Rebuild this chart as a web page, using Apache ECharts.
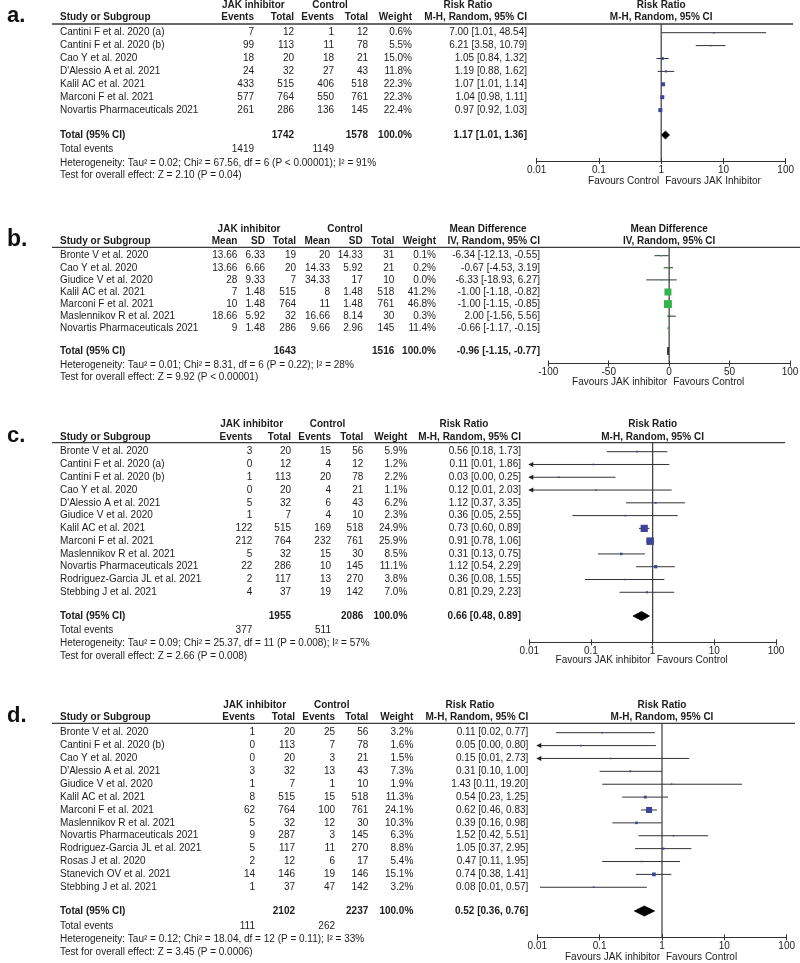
<!DOCTYPE html>
<html>
<head>
<meta charset="utf-8">
<script src="https://cdn.jsdelivr.net/npm/echarts@6.0.0/dist/echarts.min.js"></script>
<style>html,body{margin:0;padding:0;background:#fff}#chart{width:800px;height:963px}</style>
</head>
<body>
<div id="chart"></div>
<script>
// ---------------- Panel a: Risk Ratio ----------------
const studiesA = ["Cantini F et al. 2020 (a)", "Cantini F et al. 2020 (b)", "Cao Y et al. 2020", "D'Alessio A et al. 2021", "Kalil AC et al. 2021", "Marconi F et al. 2021", "Novartis Pharmaceuticals 2021"];
const jakEventsA = [7, 99, 18, 24, 433, 577, 261];
const jakTotalA = [12, 113, 20, 32, 515, 764, 286];
const ctlEventsA = [1, 11, 18, 27, 406, 550, 136];
const ctlTotalA = [12, 78, 21, 43, 518, 761, 145];
const weightA = [0.6, 5.5, 15.0, 11.8, 22.3, 22.3, 22.4];
const rrA = [7.00, 6.21, 1.05, 1.19, 1.07, 1.04, 0.97];
const loA = [1.01, 3.58, 0.84, 0.88, 1.01, 0.98, 0.92];
const hiA = [48.54, 10.79, 1.32, 1.62, 1.14, 1.11, 1.03];
const totalsA = [1742, 1578];
const eventsA = [1419, 1149];
const pooledA = [1.17, 1.01, 1.36];
const hetA = "Heterogeneity: Tau² = 0.02; Chi² = 67.56, df = 6 (P < 0.00001); I² = 91%";
const testA = "Test for overall effect: Z = 2.10 (P = 0.04)";
const favoursA = ["Favours Control", "Favours JAK Inhibitor"];

// ---------------- Panel b: Mean Difference ----------------
const studiesB = ["Bronte V et al. 2020", "Cao Y et al. 2020", "Giudice V et al. 2020", "Kalil AC et al. 2021", "Marconi F et al. 2021", "Maslennikov R et al. 2021", "Novartis Pharmaceuticals 2021"];
const jakMeanB = [13.66, 13.66, 28, 7, 10, 18.66, 9];
const jakSdB = [6.33, 6.66, 9.33, 1.48, 1.48, 5.92, 1.48];
const jakTotalB = [19, 20, 7, 515, 764, 32, 286];
const ctlMeanB = [20, 14.33, 34.33, 8, 11, 16.66, 9.66];
const ctlSdB = [14.33, 5.92, 17, 1.48, 1.48, 8.14, 2.96];
const ctlTotalB = [31, 21, 10, 518, 761, 30, 145];
const weightB = [0.1, 0.2, 0.0, 41.2, 46.8, 0.3, 11.4];
const mdB = [-6.34, -0.67, -6.33, -1.00, -1.00, 2.00, -0.66];
const loB = [-12.13, -4.53, -18.93, -1.18, -1.15, -1.56, -1.17];
const hiB = [-0.55, 3.19, 6.27, -0.82, -0.85, 5.56, -0.15];
const totalsB = [1643, 1516];
const pooledB = [-0.96, -1.15, -0.77];
const hetB = "Heterogeneity: Tau² = 0.01; Chi² = 8.31, df = 6 (P = 0.22); I² = 28%";
const testB = "Test for overall effect: Z = 9.92 (P < 0.00001)";
const favoursB = ["Favours JAK inhibitor", "Favours Control"];

// ---------------- Panel c: Risk Ratio ----------------
const studiesC = ["Bronte V et al. 2020", "Cantini F et al. 2020 (a)", "Cantini F et al. 2020 (b)", "Cao Y et al. 2020", "D'Alessio A et al. 2021", "Giudice V et al. 2020", "Kalil AC et al. 2021", "Marconi F et al. 2021", "Maslennikov R et al. 2021", "Novartis Pharmaceuticals 2021", "Rodriguez-Garcia JL et al. 2021", "Stebbing J et al. 2021"];
const jakEventsC = [3, 0, 1, 0, 5, 1, 122, 212, 5, 22, 2, 4];
const jakTotalC = [20, 12, 113, 20, 32, 7, 515, 764, 32, 286, 117, 37];
const ctlEventsC = [15, 4, 20, 4, 6, 4, 169, 232, 15, 10, 13, 19];
const ctlTotalC = [56, 12, 78, 21, 43, 10, 518, 761, 30, 145, 270, 142];
const weightC = [5.9, 1.2, 2.2, 1.1, 6.2, 2.3, 24.9, 25.9, 8.5, 11.1, 3.8, 7.0];
const rrC = [0.56, 0.11, 0.03, 0.12, 1.12, 0.36, 0.73, 0.91, 0.31, 1.12, 0.36, 0.81];
const loC = [0.18, 0.007, 0.002, 0.007, 0.37, 0.05, 0.60, 0.78, 0.13, 0.54, 0.08, 0.29];
const hiC = [1.73, 1.86, 0.25, 2.03, 3.35, 2.55, 0.89, 1.06, 0.75, 2.29, 1.55, 2.23];
const totalsC = [1955, 2086];
const eventsC = [377, 511];
const pooledC = [0.66, 0.48, 0.89];
const hetC = "Heterogeneity: Tau² = 0.09; Chi² = 25.37, df = 11 (P = 0.008); I² = 57%";
const testC = "Test for overall effect: Z = 2.66 (P = 0.008)";
const favoursC = ["Favours JAK inhibitor", "Favours Control"];

// ---------------- Panel d: Risk Ratio ----------------
const studiesD = ["Bronte V et al. 2020", "Cantini F et al. 2020 (b)", "Cao Y et al. 2020", "D'Alessio A et al. 2021", "Giudice V et al. 2020", "Kalil AC et al. 2021", "Marconi F et al. 2021", "Maslennikov R et al. 2021", "Novartis Pharmaceuticals 2021", "Rodriguez-Garcia JL et al. 2021", "Rosas J et al. 2020", "Stanevich OV et al. 2021", "Stebbing J et al. 2021"];
const jakEventsD = [1, 0, 0, 3, 1, 8, 62, 5, 9, 5, 2, 14, 1];
const jakTotalD = [20, 113, 20, 32, 7, 515, 764, 32, 287, 117, 12, 146, 37];
const ctlEventsD = [25, 7, 3, 13, 1, 15, 100, 12, 3, 11, 6, 19, 47];
const ctlTotalD = [56, 78, 21, 43, 10, 518, 761, 30, 145, 270, 17, 146, 142];
const weightD = [3.2, 1.6, 1.5, 7.3, 1.9, 11.3, 24.1, 10.3, 6.3, 8.8, 5.4, 15.1, 3.2];
const rrD = [0.11, 0.05, 0.15, 0.31, 1.43, 0.54, 0.62, 0.39, 1.52, 1.05, 0.47, 0.74, 0.08];
const loD = [0.02, 0.003, 0.008, 0.10, 0.11, 0.23, 0.46, 0.16, 0.42, 0.37, 0.11, 0.38, 0.011];
const hiD = [0.77, 0.80, 2.73, 1.00, 19.20, 1.25, 0.83, 0.98, 5.51, 2.95, 1.95, 1.41, 0.57];
const totalsD = [2102, 2237];
const eventsD = [111, 262];
const pooledD = [0.52, 0.36, 0.76];
const hetD = "Heterogeneity: Tau² = 0.12; Chi² = 18.04, df = 12 (P = 0.11); I² = 33%";
const testD = "Test for overall effect: Z = 3.45 (P = 0.0006)";
const favoursD = ["Favours JAK inhibitor", "Favours Control"];

// ---------------- Axis tick labels ----------------
const ticksRR = ["0.01", "0.1", "1", "10", "100"];
const ticksMD = ["-100", "-50", "0", "50", "100"];

// ---------------- Layout (pixels) ----------------
const FONT = '"Liberation Sans", Arial, Helvetica, sans-serif';
const NAVY = '#3a4599', GREEN = '#35b24b', INK = '#1c1c1c', LINEC = '#333';

const LA = {label:'a.', labY:15.5, labFs:22, y0:32.7, s:12.9, hdr1:5, hdr2:17, line:24, axis:161, total:135, events:149.3, het:163.3, test:175.7, fav:181,
  xl:536.7, xr:785.7, lineR:793, box:0.18, dia:4, cols:[60,254,294,334,368,412,527], hdrJak:253.3, hdrCtl:330, hdrMeas:468};
const LB = {label:'b.', labY:240, labFs:23, y0:255.7, s:12.1, hdr1:229.3, hdr2:241.7, line:247.3, axis:363.5, total:351, het:365.7, test:377.7, fav:382.5,
  xl:548.3, xr:790, lineR:800, box:0.17, dia:4, cols:[60,237.3,265,296,330,362.7,394.3,436,540], hdrJak:249, hdrCtl:345, hdrMeas:488};
const LC = {label:'c.', labY:436, labFs:22, y0:451.7, s:12.78, hdr1:424.3, hdr2:437.3, line:442.7, axis:642.3, total:616, events:630.3, het:643.3, test:656.7, fav:660.7,
  xl:529.3, xr:776, lineR:785, box:0.29, dia:4.5, cols:[60,252.3,291,331,363.3,407.3,521], hdrJak:251.7, hdrCtl:327.5, hdrMeas:464};
const LD = {label:'d.', labY:716, labFs:22, y0:732.7, s:12.88, hdr1:705, hdr2:717.3, line:723.3, axis:937.3, total:911, events:926.7, het:939.3, test:952.3, fav:957.7,
  xl:537.3, xr:786.7, lineR:795, box:0.25, dia:5, cols:[60,255,295,335,368.3,413.3,528.3], hdrJak:254.7, hdrCtl:331.7, hdrMeas:470};

// ---------------- Build panels ----------------
const rrHeaders = ['Events', 'Total', 'Events', 'Total'];
const mdHeaders = ['Mean', 'SD', 'Total', 'Mean', 'SD', 'Total'];
const panels = [
  {L:LA, log:true, color:NAVY, D:{measure:'Risk Ratio', method:'M-H, Random, 95% CI', studies:studiesA, cols:[jakEventsA, jakTotalA, ctlEventsA, ctlTotalA], colHeaders:rrHeaders,
    weight:weightA, est:rrA, lo:loA, hi:hiA, totals:totalsA, totalCols:[2,4], events:eventsA, eventCols:[1,3], pooled:pooledA, het:hetA, test:testA, fav:favoursA}},
  {L:LB, log:false, color:GREEN, D:{measure:'Mean Difference', method:'IV, Random, 95% CI', studies:studiesB, cols:[jakMeanB, jakSdB, jakTotalB, ctlMeanB, ctlSdB, ctlTotalB], colHeaders:mdHeaders,
    weight:weightB, est:mdB, lo:loB, hi:hiB, totals:totalsB, totalCols:[3,6], events:null, pooled:pooledB, het:hetB, test:testB, fav:favoursB}},
  {L:LC, log:true, color:NAVY, D:{measure:'Risk Ratio', method:'M-H, Random, 95% CI', studies:studiesC, cols:[jakEventsC, jakTotalC, ctlEventsC, ctlTotalC], colHeaders:rrHeaders,
    weight:weightC, est:rrC, lo:loC, hi:hiC, totals:totalsC, totalCols:[2,4], events:eventsC, eventCols:[1,3], pooled:pooledC, het:hetC, test:testC, fav:favoursC}},
  {L:LD, log:true, color:NAVY, D:{measure:'Risk Ratio', method:'M-H, Random, 95% CI', studies:studiesD, cols:[jakEventsD, jakTotalD, ctlEventsD, ctlTotalD], colHeaders:rrHeaders,
    weight:weightD, est:rrD, lo:loD, hi:hiD, totals:totalsD, totalCols:[2,4], events:eventsD, eventCols:[1,3], pooled:pooledD, het:hetD, test:testD, fav:favoursD}}
];

function f2(v) { return v.toFixed(2); }
function ciText(e, l, h) { return f2(e) + ' [' + f2(l) + ', ' + f2(h) + ']'; }
function pct(w) { return w.toFixed(1) + '%'; }

function buildRows(D, L) {
  const C = L.cols, n = D.cols.length, v = py => (py - L.y0) / L.s;
  const rows = [];
  rows.push({v:v(L.hdr1), cells:[
    {t:'JAK inhibitor', x:L.hdrJak, a:'center', b:1},
    {t:'Control', x:L.hdrCtl, a:'center', b:1},
    {t:D.measure, x:L.hdrMeas, a:'center', b:1},
    {t:D.measure, ref:1, a:'center', b:1}]});
  rows.push({v:v(L.hdr2), cells:[{t:'Study or Subgroup', x:C[0], b:1}]
    .concat(D.colHeaders.map((h, k) => ({t:h, x:C[k + 1], a:'right', b:1})))
    .concat([{t:'Weight', x:C[n + 1], a:'right', b:1}, {t:D.method, x:C[n + 2], a:'right', b:1}, {t:D.method, ref:1, a:'center', b:1}])});
  D.studies.forEach((s, k) => rows.push({v:k, cells:[{t:s, x:C[0]}]
    .concat(D.cols.map((arr, j) => ({t:arr[k], x:C[j + 1], a:'right'})))
    .concat([{t:pct(D.weight[k]), x:C[n + 1], a:'right'}, {t:ciText(D.est[k], D.lo[k], D.hi[k]), x:C[n + 2], a:'right'}])}));
  rows.push({v:v(L.total), cells:[{t:'Total (95% CI)', x:C[0], b:1},
    {t:D.totals[0], x:C[D.totalCols[0]], a:'right', b:1},
    {t:D.totals[1], x:C[D.totalCols[1]], a:'right', b:1},
    {t:'100.0%', x:C[n + 1], a:'right', b:1},
    {t:ciText(D.pooled[0], D.pooled[1], D.pooled[2]), x:C[n + 2], a:'right', b:1}]});
  if (D.events) rows.push({v:v(L.events), cells:[{t:'Total events', x:C[0]},
    {t:D.events[0], x:C[D.eventCols[0]], a:'right'}, {t:D.events[1], x:C[D.eventCols[1]], a:'right'}]});
  rows.push({v:v(L.het), cells:[{t:D.het, x:C[0]}]});
  rows.push({v:v(L.test), cells:[{t:D.test, x:C[0]}]});
  rows.push({v:v(L.fav), cells:[{t:D.fav[0], ref:1, dx:-2, a:'right'}, {t:D.fav[1], ref:1, dx:4, a:'left'}]});
  return rows;
}

const grid = [], xAxis = [], yAxis = [], series = [], graphic = [];
const NP = panels.length;

panels.forEach((p, i) => {
  const L = p.L, D = p.D;
  const xRef = p.log ? 1 : 0, xMin = p.log ? 0.01 : -100, xMax = 100;
  const yMin = (L.line - L.y0) / L.s, yMax = (L.axis - L.y0) / L.s;
  grid.push({left:L.xl, top:L.line, width:L.xr - L.xl, height:L.axis - L.line, containLabel:false, outerBoundsMode:'none'});
  const xBase = p.log ? {type:'log', logBase:10, min:0.01, max:100} : {type:'value', min:-100, max:100, interval:50};
  const ticks = p.log ? ticksRR : ticksMD;
  xAxis.push(Object.assign({
    gridIndex:i, position:'bottom',
    axisLine:{show:true, onZero:false, lineStyle:{color:LINEC, width:1}},
    axisTick:{show:false},
    axisLabel:{show:true, fontSize:10, fontFamily:FONT, color:INK, margin:4, showMinLabel:true, showMaxLabel:true,
      formatter: p.log ? (val => ticks[Math.round(Math.log10(val)) + 2] || '') : (val => ticks[Math.round((val + 100) / 50)] || '')},
    splitLine:{show:false}
  }, xBase));
  yAxis.push({type:'value', gridIndex:i, inverse:true, min:yMin, max:yMax, show:false});

  const rows = buildRows(D, L);
  // table text
  series.push({
    type:'custom', xAxisIndex:i, yAxisIndex:i, clip:false, silent:true, z:3,
    data: rows.map(r => [xRef, r.v]),
    renderItem: (params, api) => {
      const r = rows[params.dataIndex];
      const pt = api.coord([xRef, api.value(1)]);
      return {type:'group', children: r.cells.map(c => ({
        type:'text',
        style:{text:String(c.t), x: c.ref ? pt[0] + (c.dx || 0) : c.x, y: pt[1],
          align:c.a || 'left', textAlign:c.a || 'left', verticalAlign:'middle', textVerticalAlign:'middle',
          fontFamily:FONT, fontSize:10, fontWeight:c.b ? 'bold' : 'normal', fill:INK}
      }))};
    }
  });
  // reference line
  series.push({
    type:'custom', xAxisIndex:i, yAxisIndex:i, clip:false, silent:true, z:2,
    data:[[xRef, yMin, yMax]],
    renderItem: (params, api) => {
      const a = api.coord([api.value(0), api.value(1)]), b = api.coord([api.value(0), api.value(2)]);
      return {type:'line', shape:{x1:a[0], y1:a[1], x2:b[0], y2:b[1]}, style:{stroke:'#3a3a3a', lineWidth:1.2}};
    }
  });
  // study CIs and boxes
  series.push({
    type:'custom', xAxisIndex:i, yAxisIndex:i, clip:false, silent:true, z:4,
    data: D.est.map((e, k) => [e, k, D.lo[k], D.hi[k], D.weight[k]]),
    renderItem: (params, api) => {
      const e = api.value(0), k = api.value(1), lo = api.value(2), hi = api.value(3), w = api.value(4);
      const a = api.coord([Math.max(lo, xMin), k]), b = api.coord([Math.min(hi, xMax), k]), c = api.coord([e, k]);
      const ch = [{type:'line', shape:{x1:a[0], y1:a[1], x2:b[0], y2:b[1]}, style:{stroke:'#333', lineWidth:1}}];
      if (lo < xMin) ch.push({type:'polygon', shape:{points:[[a[0] - 1, a[1]], [a[0] + 4, a[1] - 2.5], [a[0] + 4, a[1] + 2.5]]}, style:{fill:'#222'}});
      if (hi > xMax) ch.push({type:'polygon', shape:{points:[[b[0] + 1, b[1]], [b[0] - 4, b[1] - 2.5], [b[0] - 4, b[1] + 2.5]]}, style:{fill:'#222'}});
      const sz = Math.max(1.6, L.box * w);
      ch.push({type:'rect', shape:{x:c[0] - sz / 2, y:c[1] - sz / 2, width:sz, height:sz}, style:{fill:p.color}});
      return {type:'group', children:ch};
    }
  });
  // pooled diamond
  const vTot = (L.total - L.y0) / L.s;
  series.push({
    type:'custom', xAxisIndex:i, yAxisIndex:i, clip:false, silent:true, z:5,
    data:[[D.pooled[0], vTot, D.pooled[1], D.pooled[2]]],
    renderItem: (params, api) => {
      const y = api.value(1);
      const c = api.coord([api.value(0), y]), l = api.coord([api.value(2), y]), r = api.coord([api.value(3), y]);
      return {type:'polygon', shape:{points:[[l[0], l[1]], [c[0], c[1] - L.dia], [r[0], r[1]], [c[0], c[1] + L.dia]]}, style:{fill:'#000', stroke:'#000', lineWidth:0.8}};
    }
  });

  graphic.push({type:'line', silent:true, shape:{x1:52, y1:L.line, x2:L.lineR, y2:L.line}, style:{stroke:'#3a3a3a', lineWidth:1.3}});
  graphic.push({type:'text', silent:true, x:7, y:L.labY, style:{text:L.label, fontFamily:FONT, fontSize:L.labFs, fontWeight:'bold', fill:'#111',
    align:'left', textAlign:'left', verticalAlign:'middle', textVerticalAlign:'middle'}});
});

// tick grids: same x range, bottom 3px below the axis line, ticks drawn inside with length 6 so they cross the axis line
panels.forEach((p, i) => {
  const L = p.L;
  grid.push({left:L.xl, top:L.line, width:L.xr - L.xl, height:L.axis - L.line + 3, containLabel:false, outerBoundsMode:'none'});
  const xBase = p.log ? {type:'log', logBase:10, min:0.01, max:100} : {type:'value', min:-100, max:100, interval:50};
  xAxis.push(Object.assign({gridIndex:NP + i, position:'bottom', axisLine:{show:false}, axisLabel:{show:false}, splitLine:{show:false},
    axisTick:{show:true, inside:true, length:6, lineStyle:{color:LINEC, width:1}}}, xBase));
  yAxis.push({type:'value', gridIndex:NP + i, min:0, max:1, show:false});
});

const chart = echarts.init(document.getElementById('chart'), null, {renderer:'canvas'});
chart.setOption({backgroundColor:'#fff', animation:false, grid, xAxis, yAxis, series, graphic});
</script>
</body>
</html>
